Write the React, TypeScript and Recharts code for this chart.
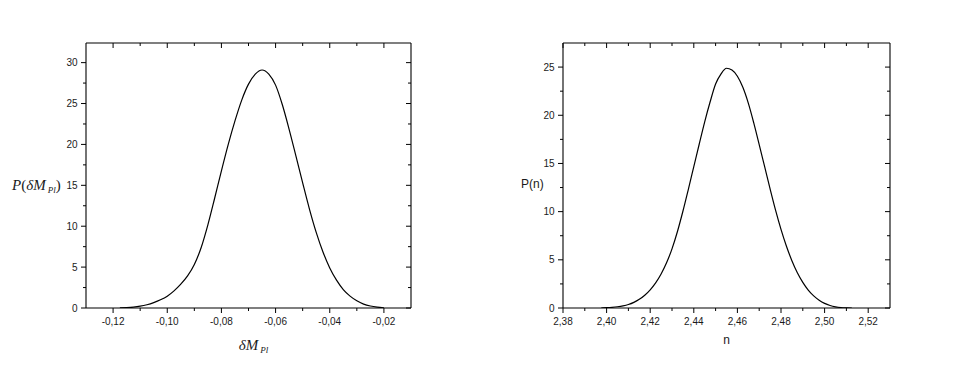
import { LineChart, Line, XAxis, YAxis, Label } from 'recharts'

// left panel: P(dM_Pl), values every 0.0025
const leftX = [-0.1175, -0.115, -0.1125, -0.11, -0.1075, -0.105, -0.1025, -0.1, -0.0975, -0.095, -0.0925, -0.09, -0.0875, -0.085, -0.0825, -0.08, -0.0775, -0.075, -0.0725, -0.07, -0.0675, -0.065, -0.0625, -0.06, -0.0575, -0.055, -0.0525, -0.05, -0.0475, -0.045, -0.0425, -0.04, -0.0375, -0.035, -0.0325, -0.03, -0.0275, -0.025, -0.0225, -0.02]
const leftY = [0.02, 0.05, 0.11, 0.22, 0.4, 0.66, 1.0, 1.45, 2.1, 2.92, 3.92, 5.32, 7.37, 10.17, 13.42, 16.77, 19.97, 22.87, 25.42, 27.37, 28.6, 29.1, 28.6, 27.25, 24.85, 21.85, 18.6, 15.3, 12.1, 9.25, 6.85, 4.9, 3.4, 2.25, 1.45, 0.88, 0.48, 0.24, 0.1, 0.03]

// right panel: P(n)
const rightX = [2.3975, 2.4, 2.4025, 2.405, 2.4075, 2.41, 2.4125, 2.415, 2.4175, 2.42, 2.4225, 2.425, 2.4275, 2.43, 2.4325, 2.435, 2.4375, 2.44, 2.4425, 2.445, 2.4475, 2.45, 2.4525, 2.455, 2.4575, 2.46, 2.4625, 2.465, 2.4675, 2.47, 2.4725, 2.475, 2.4775, 2.48, 2.4825, 2.485, 2.4875, 2.49, 2.4925, 2.495, 2.4975, 2.5, 2.5025, 2.505, 2.5075, 2.51, 2.5125]
const rightY = [0, 0.03, 0.07, 0.13, 0.22, 0.36, 0.58, 0.9, 1.33, 1.89, 2.61, 3.53, 4.69, 6.14, 7.94, 10.04, 12.32, 14.67, 17.02, 19.32, 21.4, 23.24, 24.3, 24.88, 24.7, 24.05, 22.9, 21.26, 19.21, 16.96, 14.66, 12.36, 10.16, 8.16, 6.41, 4.91, 3.66, 2.66, 1.86, 1.26, 0.81, 0.48, 0.26, 0.12, 0.04, 0.01, 0]

const leftXMajor = [-0.12, -0.1, -0.08, -0.06, -0.04, -0.02]
const leftXMinor = [-0.11, -0.09, -0.07, -0.05, -0.03]
const leftYMajor = [0, 5, 10, 15, 20, 25, 30]
const leftYMinor = [2.5, 7.5, 12.5, 17.5, 22.5, 27.5]
const rightXMajor = [2.38, 2.4, 2.42, 2.44, 2.46, 2.48, 2.5, 2.52]
const rightXMinor = [2.39, 2.41, 2.43, 2.45, 2.47, 2.49, 2.51]
const rightYMajor = [0, 5, 10, 15, 20, 25]
const rightYMinor = [2.5, 7.5, 12.5, 17.5, 22.5]

const leftXDomain = [-0.13, -0.01]
const leftYDomain = [0, 32.4]
const rightXDomain = [2.38, 2.53]
const rightYDomain = [0, 27.5]

const sans = 'Liberation Sans, Arial, sans-serif'
const serif = 'Liberation Serif, Times New Roman, serif'
const ink = '#1a1a1a'

const isMajor = (list: number[], v: number) => list.some(m => Math.abs(m - v) < 1e-9)
const fmtX = (v: number) => v.toFixed(2).replace('.', ',')
const fmtY = (v: number) => String(v)

// draws its own tick line so majors and minors can differ in length
function makeTick(side: string, majors: number[], fmt?: (v: number) => string) {
  return (p: any) => {
    const { x, y, payload } = p
    const v = payload.value
    const major = isMajor(majors, v)
    const len = major ? 5 : 3
    if (side === 'bottom') {
      return (
        <g>
          <line x1={x} y1={y} x2={x} y2={y + len} stroke="#000" />
          {major && fmt && (
            <text x={x} y={y + 16.5} textAnchor="middle" fontFamily={sans} fontSize={10} fill={ink}>{fmt(v)}</text>
          )}
        </g>
      )
    }
    if (side === 'left') {
      return (
        <g>
          <line x1={x} y1={y} x2={x - len} y2={y} stroke="#000" />
          {major && fmt && (
            <text x={x - 8.5} y={y + 3.5} textAnchor="end" fontFamily={sans} fontSize={10} fill={ink}>{fmt(v)}</text>
          )}
        </g>
      )
    }
    if (side === 'top') return <line x1={x} y1={y} x2={x} y2={y + len} stroke="#000" />
    return <line x1={x} y1={y} x2={x - len} y2={y} stroke="#000" />
  }
}

type PanelProps = {
  xs: number[]
  ys: number[]
  xDomain: number[]
  yDomain: number[]
  xMajor: number[]
  xMinor: number[]
  yMajor: number[]
  yMinor: number[]
  yAxisWidth: number
  marginRight: number
  left: number
  xLabel: (p: any) => any
  yLabel: (p: any) => any
}

function Panel(props: PanelProps) {
  const data = props.xs.map((x, i) => ({ x, y: props.ys[i] }))
  const xTicks = [...props.xMajor, ...props.xMinor].sort((a, b) => a - b)
  const yTicks = [...props.yMajor, ...props.yMinor].sort((a, b) => a - b)
  const common = { type: 'number' as const, allowDataOverflow: true, tickLine: false, tickSize: 0, tickMargin: 0, interval: 0 as const, axisLine: { stroke: '#000', strokeWidth: 1.1 } }
  return (
    <div style={{ position: 'absolute', left: props.left, top: 0 }}>
      <LineChart width={460} height={371} data={data} margin={{ top: 42, right: props.marginRight, bottom: 33, left: 0 }}>
        <XAxis {...common} dataKey="x" xAxisId="b" orientation="bottom" height={30} domain={props.xDomain} ticks={xTicks}
          tick={makeTick('bottom', props.xMajor, fmtX)}>
          <Label content={props.xLabel} />
        </XAxis>
        <XAxis {...common} dataKey="x" xAxisId="t" orientation="top" height={1} domain={props.xDomain} ticks={xTicks}
          tick={makeTick('top', props.xMajor)} />
        <YAxis {...common} yAxisId="l" orientation="left" width={props.yAxisWidth} domain={props.yDomain} ticks={yTicks}
          tick={makeTick('left', props.yMajor, fmtY)}>
          <Label content={props.yLabel} />
        </YAxis>
        <YAxis {...common} yAxisId="r" orientation="right" width={1} domain={props.yDomain} ticks={yTicks}
          tick={makeTick('right', props.yMajor)} />
        <Line xAxisId="b" yAxisId="l" type="monotone" dataKey="y" stroke="#000" strokeWidth={1.2} dot={false} isAnimationActive={false} />
      </LineChart>
    </div>
  )
}

const leftYLabel = (p: any) => {
  const vb = p.viewBox
  return (
    <text x={vb.x + 12} y={vb.y + vb.height / 2 + 14.5} fontFamily={serif} fontSize={15} fill={ink}>
      <tspan fontStyle="italic">P</tspan>
      <tspan>(</tspan>
      <tspan fontStyle="italic">δM</tspan>
      <tspan fontStyle="italic" fontSize={9} dx={2} dy={3}>Pl</tspan>
      <tspan dy={-3}>)</tspan>
    </text>
  )
}

const leftXLabel = (p: any) => {
  const vb = p.viewBox
  return (
    <text x={vb.x + vb.width / 2 + 5} y={vb.y + 42} textAnchor="middle" fontFamily={serif} fontSize={15} fill={ink}>
      <tspan fontStyle="italic">δM</tspan>
      <tspan fontStyle="italic" fontSize={9} dx={2} dy={3}>Pl</tspan>
    </text>
  )
}

const rightYLabel = (p: any) => {
  const vb = p.viewBox
  return (
    <text x={vb.x + 43} y={vb.y + vb.height / 2 + 12.5} fontFamily={sans} fontSize={12} fill={ink}>P(n)</text>
  )
}

const rightXLabel = (p: any) => {
  const vb = p.viewBox
  return (
    <text x={vb.x + vb.width / 2} y={vb.y + 36} textAnchor="middle" fontFamily={sans} fontSize={12} fill={ink}>n</text>
  )
}

export default function App() {
  return (
    <div style={{ position: 'absolute', left: 0, top: 0, width: 956, height: 371, background: '#fff', overflow: 'hidden' }}>
      <Panel xs={leftX} ys={leftY} xDomain={leftXDomain} yDomain={leftYDomain}
        xMajor={leftXMajor} xMinor={leftXMinor} yMajor={leftYMajor} yMinor={leftYMinor}
        yAxisWidth={86} marginRight={48} left={0} xLabel={leftXLabel} yLabel={leftYLabel} />
      <Panel xs={rightX} ys={rightY} xDomain={rightXDomain} yDomain={rightYDomain}
        xMajor={rightXMajor} xMinor={rightXMinor} yMajor={rightYMajor} yMinor={rightYMinor}
        yAxisWidth={85} marginRight={47} left={478} xLabel={rightXLabel} yLabel={rightYLabel} />
    </div>
  )
}
